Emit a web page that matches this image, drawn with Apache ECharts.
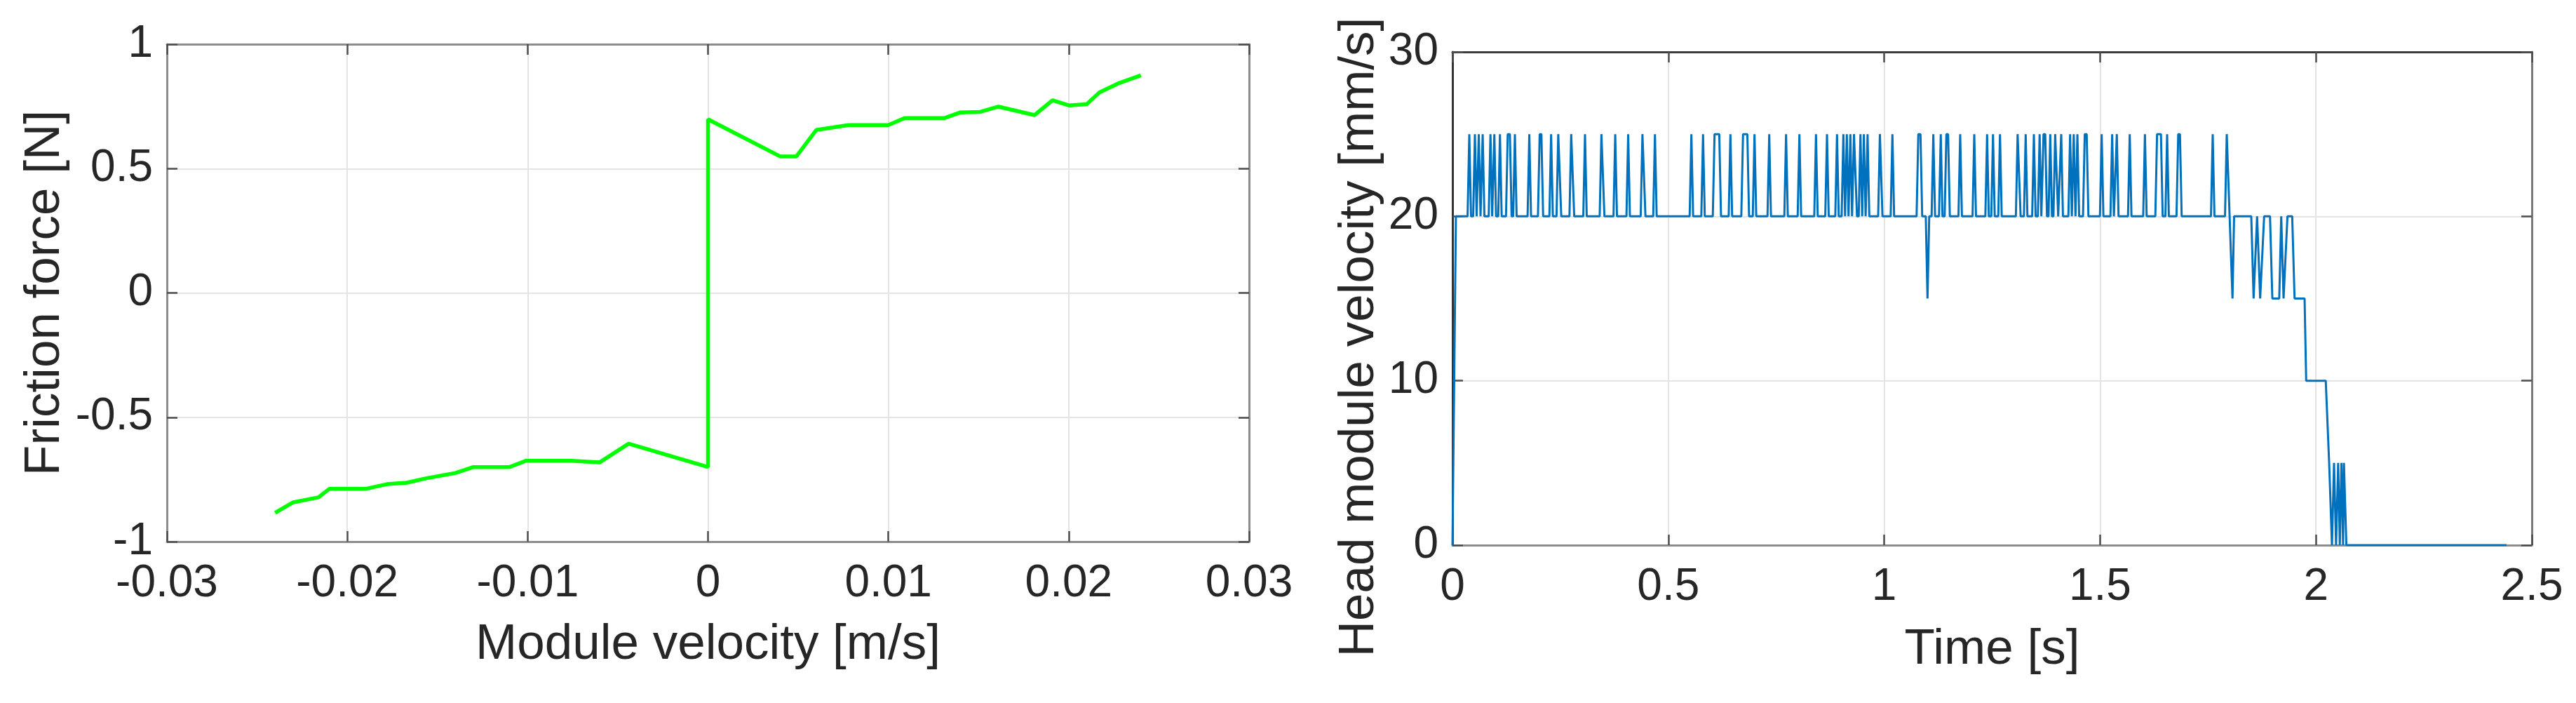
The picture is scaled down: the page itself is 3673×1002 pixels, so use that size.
<!DOCTYPE html>
<html>
<head>
<meta charset="utf-8">
<script src="https://cdn.jsdelivr.net/npm/echarts@6/dist/echarts.min.js"></script>
<style>
  html, body { margin: 0; padding: 0; background: #fff; }
  #main { width: 3673px; height: 1002px; }
</style>
</head>
<body>
<div id="main"></div>
<script>
// left plot: friction force vs module velocity
const fricVel = [-0.0240, -0.0230, -0.0216, -0.0210, -0.0190, -0.0178, -0.0167, -0.0156, -0.0140, -0.0130,
  -0.0110, -0.0101, -0.0076, -0.0060, -0.0044, 0, 0, 0.0040, 0.0049, 0.0060, 0.0078, 0.0100, 0.0109,
  0.0131, 0.0140, 0.0151, 0.0161, 0.0181, 0.0191, 0.0200, 0.0210, 0.0217, 0.0228, 0.0240];
const fricForce = [-0.884, -0.842, -0.822, -0.788, -0.788, -0.769, -0.763, -0.745, -0.724, -0.700,
  -0.700, -0.675, -0.675, -0.681, -0.606, -0.700, 0.698, 0.549, 0.549, 0.655, 0.675, 0.675, 0.703,
  0.703, 0.726, 0.728, 0.749, 0.715, 0.775, 0.754, 0.759, 0.806, 0.844, 0.875];

// right plot: head module velocity vs time
const headT = [0, 0.008];
const headV = [0, 20];
// excursions from the 20 mm/s level (start time, end time, level)
const spikeOn = [0.039, 0.052, 0.061, 0.070, 0.088, 0.097, 0.110, 0.128, 0.1446, 0.178, 0.202, 0.2285, 0.245, 0.275,
  0.307, 0.345, 0.377, 0.407, 0.440, 0.469,
  0.5534, 0.5804, 0.607, 0.6438, 0.673, 0.6996, 0.7337, 0.7727, 0.8036, 0.842, 0.8675, 0.8907, 0.9054, 0.9134,
  0.9216, 0.930, 0.945, 0.953, 0.9615, 0.990, 1.019,
  1.079, 1.1003, 1.1138, 1.131, 1.144, 1.176, 1.2086, 1.2383, 1.252, 1.2682, 1.309, 1.3277, 1.3467, 1.360, 1.369,
  1.3846, 1.396, 1.410, 1.4306, 1.439, 1.4475, 1.4645, 1.5037, 1.528, 1.5388, 1.5687, 1.6039, 1.632, 1.6553,
  1.681, 1.7609];
const spikeOff = [0.039, 0.052, 0.061, 0.070, 0.088, 0.097, 0.110, 0.133, 0.1446, 0.178, 0.206, 0.2285, 0.248, 0.278,
  0.307, 0.348, 0.377, 0.407, 0.443, 0.469,
  0.5534, 0.5804, 0.618, 0.6438, 0.683, 0.6996, 0.7337, 0.7727, 0.8036, 0.842, 0.8675, 0.8907, 0.9054, 0.9134,
  0.9216, 0.933, 0.945, 0.953, 0.9615, 0.992, 1.019,
  1.084, 1.1003, 1.1138, 1.131, 1.148, 1.176, 1.2086, 1.2383, 1.252, 1.2682, 1.312, 1.3277, 1.3467, 1.360, 1.373,
  1.3846, 1.399, 1.410, 1.4306, 1.439, 1.4475, 1.469, 1.5037, 1.528, 1.5388, 1.5687, 1.6039, 1.641, 1.6553,
  1.685, 1.7609];
const spikeLevel = [25, 25, 25, 25, 25, 25, 25, 25, 25, 25, 25, 25, 25, 25,
  25, 25, 25, 25, 25, 25,
  25, 25, 25, 25, 25, 25, 25, 25, 25, 25, 25, 25, 25, 25,
  25, 25, 25, 25, 25, 25, 25,
  25, 15, 25, 25, 25, 25, 25, 25, 25, 25, 25, 25, 25, 25, 25,
  25, 25, 25, 25, 25, 25, 25, 25, 25, 25, 25, 25, 25, 25,
  25, 25];
const tailT = [1.7894, 1.7934, 1.8067, 1.8104, 1.8502, 1.8556, 1.8637, 1.8708, 1.880, 1.8936, 1.899, 1.915,
  1.9196, 1.925, 1.934, 1.945, 1.9505, 1.9737, 1.9774, 2.0227, 2.0306, 2.0371, 2.0419, 2.0466, 2.0515,
  2.0553, 2.0591, 2.0629, 2.0648, 2.0705, 2.4415];
const tailV = [20, 25, 15, 20, 20, 15, 20, 15, 20, 20, 15, 15,
  20, 15, 20, 20, 15, 15, 10, 10, 5, 0, 5, 0, 5,
  0, 5, 0, 5, 0, 0];
const baseLevel = 20;
const edge = 0.004;

// tick labels
const forceTicks = { min: -1, max: 1, interval: 0.5 };
const velTicks = { min: -0.03, max: 0.03, interval: 0.01 };
const timeTicks = { min: 0, max: 2.5, interval: 0.5 };
const headTicks = { min: 0, max: 30, interval: 10 };

let fricData = fricVel.map(function (v, i) { return [v, fricForce[i]]; });

let headData = [];
for (let i = 0; i < headT.length; i++) headData.push([headT[i], headV[i]]);
for (let i = 0; i < spikeOn.length; i++) {
  let last = headData[headData.length - 1][0];
  if (spikeOn[i] - edge > last) headData.push([spikeOn[i] - edge, baseLevel]);
  headData.push([spikeOn[i], spikeLevel[i]]);
  if (spikeOff[i] > spikeOn[i]) headData.push([spikeOff[i], spikeLevel[i]]);
  headData.push([spikeOff[i] + edge, baseLevel]);
}
for (let i = 0; i < tailT.length; i++) headData.push([tailT[i], tailV[i]]);

const FONT = 'Liberation Sans, Arial, sans-serif';
const txt = '#262626';

function mainAxis(gridIndex, pos, range, lineColor, margin) {
  return {
    type: 'value', gridIndex: gridIndex, position: pos,
    min: range.min, max: range.max, interval: range.interval,
    axisLine: { show: true, onZero: false, lineStyle: { color: lineColor, width: 3 } },
    axisTick: { show: true, inside: true, length: 15, lineStyle: { color: '#4d4d4d', width: 2.5 } },
    splitLine: { show: true, lineStyle: { color: '#e4e4e4', width: 2 } },
    axisLabel: { show: true, margin: margin, color: txt, fontSize: 64, fontFamily: FONT,
      showMinLabel: true, showMaxLabel: true },
    nameLocation: 'middle',
    nameTextStyle: { color: txt, fontSize: 71, fontFamily: FONT }
  };
}
function frameAxis(gridIndex, pos, range, lineColor) {
  return {
    type: 'value', gridIndex: gridIndex, position: pos,
    min: range.min, max: range.max, interval: range.interval,
    axisLine: { show: true, onZero: false, lineStyle: { color: lineColor, width: 3 } },
    axisTick: { show: true, inside: true, length: 15, lineStyle: { color: '#4d4d4d', width: 2.5 } },
    splitLine: { show: false },
    axisLabel: { show: false }
  };
}

let x0 = mainAxis(0, 'bottom', velTicks, '#8c8c8c', 28);
x0.name = 'Module velocity [m/s]'; x0.nameGap = 112;
let y0 = mainAxis(0, 'left', forceTicks, '#8c8c8c', 20);
y0.name = 'Friction force [N]'; y0.nameGap = 138;
let x1 = mainAxis(1, 'bottom', timeTicks, '#8c8c8c', 28);
x1.name = 'Time [s]'; x1.nameGap = 114;
let y1 = mainAxis(1, 'left', headTicks, '#333333', 20);
y1.name = 'Head module velocity [mm/s]'; y1.nameGap = 97;
y1.nameTextStyle.padding = [0, 110, 0, 0];

let chart = echarts.init(document.getElementById('main'));
chart.setOption({
  animation: false,
  backgroundColor: '#fff',
  grid: [
    { left: 238, top: 63, width: 1543, height: 709, outerBoundsMode: 'none' },
    { left: 2071, top: 74, width: 1539, height: 703, outerBoundsMode: 'none' }
  ],
  xAxis: [x0, frameAxis(0, 'top', velTicks, '#8c8c8c'), x1, frameAxis(1, 'top', timeTicks, '#3c3c3c')],
  yAxis: [y0, frameAxis(0, 'right', forceTicks, '#8c8c8c'), y1, frameAxis(1, 'right', headTicks, '#7a7a7a')],
  series: [
    {
      name: 'friction', type: 'line', xAxisIndex: 0, yAxisIndex: 0,
      showSymbol: false, data: fricData,
      lineStyle: { color: '#00ff00', width: 5.5 }
    },
    {
      name: 'velocity', type: 'line', xAxisIndex: 2, yAxisIndex: 2,
      showSymbol: false, data: headData,
      lineStyle: { color: '#0072bd', width: 3 }
    }
  ]
});
</script>
</body>
</html>
